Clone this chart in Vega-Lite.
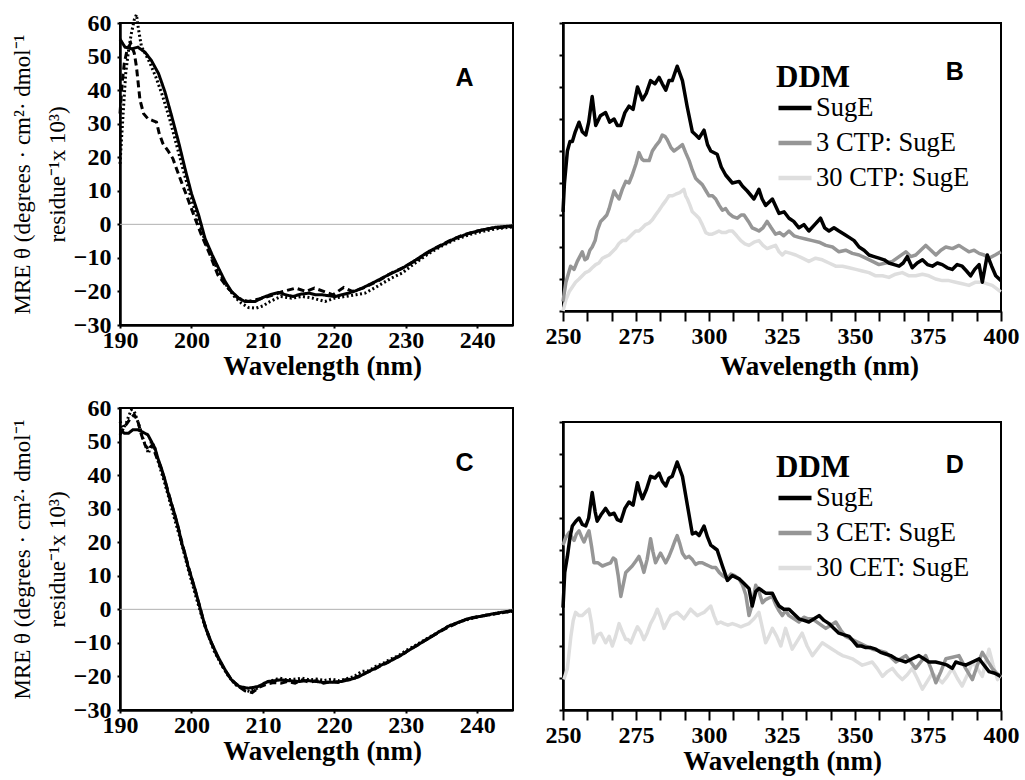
{
"$schema": "https://vega.github.io/schema/vega-lite/v6.json",
"background": "white",
"padding": {"left": 10, "top": 7, "right": 5, "bottom": 5},
"config": {
  "view": {"stroke": "black", "strokeWidth": 2},
  "axis": {"domainColor": "black", "domainWidth": 2.5, "tickColor": "black", "tickWidth": 2, "grid": false, "tickCount": 100,
           "labelFont": "Liberation Serif", "labelFontWeight": "bold", "labelFontSize": 24, "labelColor": "black",
           "titleFont": "Liberation Serif", "titleFontWeight": "bold", "titleFontSize": 27, "titleColor": "black"},
  "legend": {"labelFont": "Liberation Serif", "labelFontSize": 26.5, "labelFontWeight": "normal", "labelColor": "black",
             "titleFont": "Liberation Serif", "titleFontSize": 31, "titleFontWeight": "bold", "titleColor": "black",
             "titlePadding": -5, "labelOffset": 2, "rowPadding": 2, "padding": 0, "symbolType": "stroke", "symbolSize": 1089, "symbolStrokeWidth": 4.5}
},
"datasets": {
  "cdA": [
    {"wl":190.0,"mre":55.2,"series":"SugE"},{"wl":190.7,"mre":52.8,"series":"SugE"},{"wl":191.6,"mre":52.3,"series":"SugE"},{"wl":192.5,"mre":52.8,"series":"SugE"},{"wl":193.5,"mre":51.3,"series":"SugE"},{"wl":194.4,"mre":48.8,"series":"SugE"},{"wl":195.4,"mre":44.9,"series":"SugE"},{"wl":196.3,"mre":39.4,"series":"SugE"},{"wl":197.2,"mre":32.5,"series":"SugE"},{"wl":198.2,"mre":24.5,"series":"SugE"},{"wl":199.1,"mre":16.6,"series":"SugE"},{"wl":200.0,"mre":9.2,"series":"SugE"},{"wl":201.0,"mre":2.8,"series":"SugE"},{"wl":201.9,"mre":-4.2,"series":"SugE"},{"wl":202.9,"mre":-9.1,"series":"SugE"},{"wl":203.8,"mre":-13.1,"series":"SugE"},{"wl":204.7,"mre":-17.0,"series":"SugE"},{"wl":205.6,"mre":-20.0,"series":"SugE"},{"wl":206.6,"mre":-22.0,"series":"SugE"},{"wl":207.5,"mre":-23.0,"series":"SugE"},{"wl":208.9,"mre":-23.0,"series":"SugE"},{"wl":210.0,"mre":-21.8,"series":"SugE"},{"wl":211.0,"mre":-21.0,"series":"SugE"},{"wl":212.2,"mre":-20.3,"series":"SugE"},{"wl":213.2,"mre":-21.0,"series":"SugE"},{"wl":214.2,"mre":-21.5,"series":"SugE"},{"wl":215.3,"mre":-20.8,"series":"SugE"},{"wl":216.5,"mre":-20.5,"series":"SugE"},{"wl":217.4,"mre":-21.0,"series":"SugE"},{"wl":218.3,"mre":-21.0,"series":"SugE"},{"wl":219.2,"mre":-21.3,"series":"SugE"},{"wl":220.2,"mre":-21.5,"series":"SugE"},{"wl":221.0,"mre":-21.0,"series":"SugE"},{"wl":222.0,"mre":-20.5,"series":"SugE"},{"wl":223.0,"mre":-19.8,"series":"SugE"},{"wl":223.9,"mre":-19.0,"series":"SugE"},{"wl":225.8,"mre":-17.0,"series":"SugE"},{"wl":227.6,"mre":-15.0,"series":"SugE"},{"wl":229.5,"mre":-13.1,"series":"SugE"},{"wl":231.4,"mre":-10.6,"series":"SugE"},{"wl":233.2,"mre":-8.1,"series":"SugE"},{"wl":235.1,"mre":-6.1,"series":"SugE"},{"wl":236.9,"mre":-4.2,"series":"SugE"},{"wl":238.8,"mre":-2.7,"series":"SugE"},{"wl":240.6,"mre":-1.7,"series":"SugE"},{"wl":242.5,"mre":-0.9,"series":"SugE"},{"wl":244.6,"mre":-0.5,"series":"SugE"},{"wl":245.0,"mre":-0.4,"series":"SugE"},
    {"wl":190.0,"mre":33,"series":"3 CTP: SugE"},{"wl":190.3,"mre":42,"series":"3 CTP: SugE"},{"wl":190.6,"mre":48,"series":"3 CTP: SugE"},{"wl":191.0,"mre":52,"series":"3 CTP: SugE"},{"wl":191.5,"mre":54,"series":"3 CTP: SugE"},{"wl":192.0,"mre":51,"series":"3 CTP: SugE"},{"wl":192.3,"mre":47,"series":"3 CTP: SugE"},{"wl":192.8,"mre":37,"series":"3 CTP: SugE"},{"wl":193.3,"mre":33,"series":"3 CTP: SugE"},{"wl":193.9,"mre":31.5,"series":"3 CTP: SugE"},{"wl":194.5,"mre":31,"series":"3 CTP: SugE"},{"wl":195.1,"mre":30.5,"series":"3 CTP: SugE"},{"wl":195.5,"mre":27,"series":"3 CTP: SugE"},{"wl":196.0,"mre":24.1,"series":"3 CTP: SugE"},{"wl":196.7,"mre":22,"series":"3 CTP: SugE"},{"wl":197.4,"mre":19.6,"series":"3 CTP: SugE"},{"wl":198.4,"mre":13.7,"series":"3 CTP: SugE"},{"wl":199.3,"mre":8.7,"series":"3 CTP: SugE"},{"wl":200.5,"mre":1.8,"series":"3 CTP: SugE"},{"wl":201.4,"mre":-3.2,"series":"3 CTP: SugE"},{"wl":202.6,"mre":-9.1,"series":"3 CTP: SugE"},{"wl":203.7,"mre":-15.1,"series":"3 CTP: SugE"},{"wl":205.1,"mre":-19.0,"series":"3 CTP: SugE"},{"wl":206.5,"mre":-22.0,"series":"3 CTP: SugE"},{"wl":207.9,"mre":-23.0,"series":"3 CTP: SugE"},{"wl":209.0,"mre":-22.5,"series":"3 CTP: SugE"},{"wl":210.0,"mre":-22,"series":"3 CTP: SugE"},{"wl":211.5,"mre":-21,"series":"3 CTP: SugE"},{"wl":212.8,"mre":-20,"series":"3 CTP: SugE"},{"wl":214.6,"mre":-19,"series":"3 CTP: SugE"},{"wl":216.0,"mre":-20,"series":"3 CTP: SugE"},{"wl":217.2,"mre":-19,"series":"3 CTP: SugE"},{"wl":218.5,"mre":-20,"series":"3 CTP: SugE"},{"wl":219.8,"mre":-21,"series":"3 CTP: SugE"},{"wl":221.3,"mre":-18.8,"series":"3 CTP: SugE"},{"wl":222.5,"mre":-20,"series":"3 CTP: SugE"},{"wl":224.0,"mre":-19,"series":"3 CTP: SugE"},{"wl":226,"mre":-17,"series":"3 CTP: SugE"},{"wl":228,"mre":-14.5,"series":"3 CTP: SugE"},{"wl":230,"mre":-12.5,"series":"3 CTP: SugE"},{"wl":232,"mre":-10,"series":"3 CTP: SugE"},{"wl":234,"mre":-7.2,"series":"3 CTP: SugE"},{"wl":236,"mre":-5,"series":"3 CTP: SugE"},{"wl":238,"mre":-3.2,"series":"3 CTP: SugE"},{"wl":240,"mre":-2,"series":"3 CTP: SugE"},{"wl":242,"mre":-1.2,"series":"3 CTP: SugE"},{"wl":245,"mre":-0.6,"series":"3 CTP: SugE"},
    {"wl":190.0,"mre":18,"series":"30 CTP: SugE"},{"wl":190.2,"mre":25,"series":"30 CTP: SugE"},{"wl":190.5,"mre":35,"series":"30 CTP: SugE"},{"wl":190.8,"mre":45,"series":"30 CTP: SugE"},{"wl":191.2,"mre":52,"series":"30 CTP: SugE"},{"wl":191.6,"mre":57,"series":"30 CTP: SugE"},{"wl":192.0,"mre":61,"series":"30 CTP: SugE"},{"wl":192.3,"mre":62.5,"series":"30 CTP: SugE"},{"wl":192.6,"mre":58,"series":"30 CTP: SugE"},{"wl":193.0,"mre":53,"series":"30 CTP: SugE"},{"wl":193.5,"mre":51,"series":"30 CTP: SugE"},{"wl":194.2,"mre":48,"series":"30 CTP: SugE"},{"wl":195.0,"mre":44,"series":"30 CTP: SugE"},{"wl":196.0,"mre":38,"series":"30 CTP: SugE"},{"wl":197.0,"mre":31,"series":"30 CTP: SugE"},{"wl":198.0,"mre":23,"series":"30 CTP: SugE"},{"wl":199.0,"mre":15,"series":"30 CTP: SugE"},{"wl":200.0,"mre":7.5,"series":"30 CTP: SugE"},{"wl":201.0,"mre":1,"series":"30 CTP: SugE"},{"wl":202.0,"mre":-5.5,"series":"30 CTP: SugE"},{"wl":203.0,"mre":-10.5,"series":"30 CTP: SugE"},{"wl":204.0,"mre":-15,"series":"30 CTP: SugE"},{"wl":205.0,"mre":-18.5,"series":"30 CTP: SugE"},{"wl":206.0,"mre":-21.5,"series":"30 CTP: SugE"},{"wl":207.0,"mre":-23.5,"series":"30 CTP: SugE"},{"wl":208.0,"mre":-24.8,"series":"30 CTP: SugE"},{"wl":209.0,"mre":-25,"series":"30 CTP: SugE"},{"wl":210.0,"mre":-24.3,"series":"30 CTP: SugE"},{"wl":211.0,"mre":-23,"series":"30 CTP: SugE"},{"wl":212.5,"mre":-21.5,"series":"30 CTP: SugE"},{"wl":214.0,"mre":-22,"series":"30 CTP: SugE"},{"wl":215.5,"mre":-21.5,"series":"30 CTP: SugE"},{"wl":217.0,"mre":-22,"series":"30 CTP: SugE"},{"wl":218.7,"mre":-23,"series":"30 CTP: SugE"},{"wl":220,"mre":-22,"series":"30 CTP: SugE"},{"wl":221.5,"mre":-21.5,"series":"30 CTP: SugE"},{"wl":223,"mre":-21,"series":"30 CTP: SugE"},{"wl":224.3,"mre":-20.5,"series":"30 CTP: SugE"},{"wl":226,"mre":-18.5,"series":"30 CTP: SugE"},{"wl":228,"mre":-16,"series":"30 CTP: SugE"},{"wl":229.5,"mre":-14.5,"series":"30 CTP: SugE"},{"wl":231,"mre":-12,"series":"30 CTP: SugE"},{"wl":233,"mre":-9,"series":"30 CTP: SugE"},{"wl":235,"mre":-6.5,"series":"30 CTP: SugE"},{"wl":237,"mre":-4.5,"series":"30 CTP: SugE"},{"wl":239,"mre":-3,"series":"30 CTP: SugE"},{"wl":241,"mre":-2,"series":"30 CTP: SugE"},{"wl":243,"mre":-1.2,"series":"30 CTP: SugE"},{"wl":245,"mre":-0.8,"series":"30 CTP: SugE"}
  ],
  "cdC": [
    {"wl":190.0,"mre":53.5,"series":"SugE"},{"wl":190.6,"mre":52.5,"series":"SugE"},{"wl":191.2,"mre":52.5,"series":"SugE"},{"wl":191.8,"mre":53.5,"series":"SugE"},{"wl":192.5,"mre":53.5,"series":"SugE"},{"wl":193.2,"mre":52.8,"series":"SugE"},{"wl":193.9,"mre":52,"series":"SugE"},{"wl":194.4,"mre":50,"series":"SugE"},{"wl":194.9,"mre":48,"series":"SugE"},{"wl":195.3,"mre":45,"series":"SugE"},{"wl":195.8,"mre":42,"series":"SugE"},{"wl":196.3,"mre":38.5,"series":"SugE"},{"wl":196.7,"mre":35,"series":"SugE"},{"wl":197.2,"mre":31.5,"series":"SugE"},{"wl":197.7,"mre":28,"series":"SugE"},{"wl":198.2,"mre":24,"series":"SugE"},{"wl":198.6,"mre":20,"series":"SugE"},{"wl":199.1,"mre":16.5,"series":"SugE"},{"wl":199.5,"mre":13,"series":"SugE"},{"wl":200.0,"mre":9.5,"series":"SugE"},{"wl":200.5,"mre":6,"series":"SugE"},{"wl":201.2,"mre":0.5,"series":"SugE"},{"wl":201.9,"mre":-5,"series":"SugE"},{"wl":202.8,"mre":-10,"series":"SugE"},{"wl":203.8,"mre":-14.5,"series":"SugE"},{"wl":204.7,"mre":-18,"series":"SugE"},{"wl":205.6,"mre":-21,"series":"SugE"},{"wl":206.7,"mre":-23,"series":"SugE"},{"wl":207.9,"mre":-23.5,"series":"SugE"},{"wl":208.6,"mre":-23.3,"series":"SugE"},{"wl":209.3,"mre":-23,"series":"SugE"},{"wl":210.0,"mre":-22.3,"series":"SugE"},{"wl":210.7,"mre":-21.5,"series":"SugE"},{"wl":211.6,"mre":-21.3,"series":"SugE"},{"wl":212.5,"mre":-21,"series":"SugE"},{"wl":213.8,"mre":-21.3,"series":"SugE"},{"wl":215.1,"mre":-21.5,"series":"SugE"},{"wl":216.2,"mre":-21.2,"series":"SugE"},{"wl":217.4,"mre":-21.5,"series":"SugE"},{"wl":218.6,"mre":-21.8,"series":"SugE"},{"wl":219.8,"mre":-21.7,"series":"SugE"},{"wl":221.0,"mre":-21.5,"series":"SugE"},{"wl":222.1,"mre":-21,"series":"SugE"},{"wl":223.3,"mre":-20.2,"series":"SugE"},{"wl":224.4,"mre":-19,"series":"SugE"},{"wl":225.5,"mre":-17.8,"series":"SugE"},{"wl":226.7,"mre":-16.5,"series":"SugE"},{"wl":227.9,"mre":-15.3,"series":"SugE"},{"wl":229.1,"mre":-14,"series":"SugE"},{"wl":230.2,"mre":-12.5,"series":"SugE"},{"wl":231.4,"mre":-11,"series":"SugE"},{"wl":232.5,"mre":-9.5,"series":"SugE"},{"wl":233.7,"mre":-8,"series":"SugE"},{"wl":234.8,"mre":-6.5,"series":"SugE"},{"wl":236.0,"mre":-5,"series":"SugE"},{"wl":237.2,"mre":-4,"series":"SugE"},{"wl":238.4,"mre":-3,"series":"SugE"},{"wl":239.5,"mre":-2.4,"series":"SugE"},{"wl":240.7,"mre":-2,"series":"SugE"},{"wl":242.5,"mre":-1.2,"series":"SugE"},{"wl":244.6,"mre":-0.5,"series":"SugE"},{"wl":245,"mre":-0.4,"series":"SugE"},
    {"wl":190.0,"mre":52,"series":"3 CET: SugE"},{"wl":190.5,"mre":54,"series":"3 CET: SugE"},{"wl":191.0,"mre":55.5,"series":"3 CET: SugE"},{"wl":191.5,"mre":57,"series":"3 CET: SugE"},{"wl":192.0,"mre":58,"series":"3 CET: SugE"},{"wl":192.5,"mre":56,"series":"3 CET: SugE"},{"wl":193.0,"mre":52,"series":"3 CET: SugE"},{"wl":193.5,"mre":49,"series":"3 CET: SugE"},{"wl":194.0,"mre":47.5,"series":"3 CET: SugE"},{"wl":194.5,"mre":49,"series":"3 CET: SugE"},{"wl":195.0,"mre":46,"series":"3 CET: SugE"},{"wl":195.6,"mre":43,"series":"3 CET: SugE"},{"wl":196.2,"mre":39,"series":"3 CET: SugE"},{"wl":196.8,"mre":34.5,"series":"3 CET: SugE"},{"wl":197.4,"mre":30,"series":"3 CET: SugE"},{"wl":198.0,"mre":25.5,"series":"3 CET: SugE"},{"wl":198.6,"mre":20.5,"series":"3 CET: SugE"},{"wl":199.2,"mre":15.5,"series":"3 CET: SugE"},{"wl":199.8,"mre":11,"series":"3 CET: SugE"},{"wl":200.4,"mre":6.5,"series":"3 CET: SugE"},{"wl":201.0,"mre":2,"series":"3 CET: SugE"},{"wl":201.7,"mre":-3.5,"series":"3 CET: SugE"},{"wl":202.5,"mre":-8.5,"series":"3 CET: SugE"},{"wl":203.5,"mre":-13.5,"series":"3 CET: SugE"},{"wl":204.5,"mre":-17.5,"series":"3 CET: SugE"},{"wl":205.5,"mre":-20.8,"series":"3 CET: SugE"},{"wl":206.5,"mre":-22.8,"series":"3 CET: SugE"},{"wl":207.5,"mre":-24.3,"series":"3 CET: SugE"},{"wl":208.5,"mre":-24.8,"series":"3 CET: SugE"},{"wl":209.5,"mre":-23.2,"series":"3 CET: SugE"},{"wl":210.5,"mre":-22.3,"series":"3 CET: SugE"},{"wl":211.5,"mre":-21.8,"series":"3 CET: SugE"},{"wl":212.5,"mre":-22,"series":"3 CET: SugE"},{"wl":213.5,"mre":-21.5,"series":"3 CET: SugE"},{"wl":214.5,"mre":-22,"series":"3 CET: SugE"},{"wl":215.5,"mre":-21,"series":"3 CET: SugE"},{"wl":216.5,"mre":-21.8,"series":"3 CET: SugE"},{"wl":217.5,"mre":-21.2,"series":"3 CET: SugE"},{"wl":218.5,"mre":-22,"series":"3 CET: SugE"},{"wl":219.5,"mre":-21.5,"series":"3 CET: SugE"},{"wl":220.5,"mre":-21.8,"series":"3 CET: SugE"},{"wl":221.5,"mre":-21,"series":"3 CET: SugE"},{"wl":222.5,"mre":-20.8,"series":"3 CET: SugE"},{"wl":223.5,"mre":-19.8,"series":"3 CET: SugE"},{"wl":224.5,"mre":-18.8,"series":"3 CET: SugE"},{"wl":225.5,"mre":-18,"series":"3 CET: SugE"},{"wl":226.5,"mre":-16.8,"series":"3 CET: SugE"},{"wl":227.5,"mre":-15.8,"series":"3 CET: SugE"},{"wl":228.5,"mre":-14.5,"series":"3 CET: SugE"},{"wl":229.5,"mre":-13.5,"series":"3 CET: SugE"},{"wl":230.5,"mre":-12,"series":"3 CET: SugE"},{"wl":231.5,"mre":-10.8,"series":"3 CET: SugE"},{"wl":232.5,"mre":-9.5,"series":"3 CET: SugE"},{"wl":233.5,"mre":-8.2,"series":"3 CET: SugE"},{"wl":234.5,"mre":-7,"series":"3 CET: SugE"},{"wl":235.5,"mre":-5.8,"series":"3 CET: SugE"},{"wl":236.5,"mre":-4.8,"series":"3 CET: SugE"},{"wl":237.5,"mre":-3.8,"series":"3 CET: SugE"},{"wl":238.5,"mre":-3,"series":"3 CET: SugE"},{"wl":239.5,"mre":-2.5,"series":"3 CET: SugE"},{"wl":240.5,"mre":-2,"series":"3 CET: SugE"},{"wl":242,"mre":-1.5,"series":"3 CET: SugE"},{"wl":243.5,"mre":-1,"series":"3 CET: SugE"},{"wl":245,"mre":-0.4,"series":"3 CET: SugE"},
    {"wl":190.0,"mre":56,"series":"30 CET: SugE"},{"wl":190.4,"mre":54,"series":"30 CET: SugE"},{"wl":190.8,"mre":55,"series":"30 CET: SugE"},{"wl":191.2,"mre":57.5,"series":"30 CET: SugE"},{"wl":191.6,"mre":59.5,"series":"30 CET: SugE"},{"wl":192.0,"mre":59,"series":"30 CET: SugE"},{"wl":192.4,"mre":56.5,"series":"30 CET: SugE"},{"wl":192.8,"mre":54,"series":"30 CET: SugE"},{"wl":193.2,"mre":51,"series":"30 CET: SugE"},{"wl":193.6,"mre":48.5,"series":"30 CET: SugE"},{"wl":194.0,"mre":46.5,"series":"30 CET: SugE"},{"wl":194.4,"mre":50,"series":"30 CET: SugE"},{"wl":194.8,"mre":48.5,"series":"30 CET: SugE"},{"wl":195.2,"mre":45,"series":"30 CET: SugE"},{"wl":195.7,"mre":41.5,"series":"30 CET: SugE"},{"wl":196.2,"mre":38,"series":"30 CET: SugE"},{"wl":196.8,"mre":33.5,"series":"30 CET: SugE"},{"wl":197.3,"mre":29.5,"series":"30 CET: SugE"},{"wl":197.9,"mre":25,"series":"30 CET: SugE"},{"wl":198.5,"mre":20.5,"series":"30 CET: SugE"},{"wl":199.0,"mre":16.5,"series":"30 CET: SugE"},{"wl":199.6,"mre":11.5,"series":"30 CET: SugE"},{"wl":200.2,"mre":7,"series":"30 CET: SugE"},{"wl":200.8,"mre":2.5,"series":"30 CET: SugE"},{"wl":201.5,"mre":-2.5,"series":"30 CET: SugE"},{"wl":202.3,"mre":-7.5,"series":"30 CET: SugE"},{"wl":203.2,"mre":-12.5,"series":"30 CET: SugE"},{"wl":204.2,"mre":-16.5,"series":"30 CET: SugE"},{"wl":205.2,"mre":-20,"series":"30 CET: SugE"},{"wl":206.2,"mre":-22.5,"series":"30 CET: SugE"},{"wl":207.2,"mre":-23.8,"series":"30 CET: SugE"},{"wl":208.2,"mre":-24.5,"series":"30 CET: SugE"},{"wl":209.2,"mre":-23.5,"series":"30 CET: SugE"},{"wl":210.2,"mre":-22,"series":"30 CET: SugE"},{"wl":211.2,"mre":-21.3,"series":"30 CET: SugE"},{"wl":212.3,"mre":-20.5,"series":"30 CET: SugE"},{"wl":213.3,"mre":-21,"series":"30 CET: SugE"},{"wl":214.4,"mre":-20.8,"series":"30 CET: SugE"},{"wl":215.5,"mre":-20.5,"series":"30 CET: SugE"},{"wl":216.5,"mre":-21,"series":"30 CET: SugE"},{"wl":217.5,"mre":-20.8,"series":"30 CET: SugE"},{"wl":218.6,"mre":-21.2,"series":"30 CET: SugE"},{"wl":219.6,"mre":-20.8,"series":"30 CET: SugE"},{"wl":220.7,"mre":-21.3,"series":"30 CET: SugE"},{"wl":221.7,"mre":-20.7,"series":"30 CET: SugE"},{"wl":222.8,"mre":-20,"series":"30 CET: SugE"},{"wl":223.8,"mre":-18.5,"series":"30 CET: SugE"},{"wl":224.8,"mre":-18.3,"series":"30 CET: SugE"},{"wl":225.8,"mre":-17,"series":"30 CET: SugE"},{"wl":226.9,"mre":-16,"series":"30 CET: SugE"},{"wl":227.9,"mre":-14.8,"series":"30 CET: SugE"},{"wl":229,"mre":-13.8,"series":"30 CET: SugE"},{"wl":230,"mre":-12.3,"series":"30 CET: SugE"},{"wl":231,"mre":-11.2,"series":"30 CET: SugE"},{"wl":232.1,"mre":-9.8,"series":"30 CET: SugE"},{"wl":233.1,"mre":-8.5,"series":"30 CET: SugE"},{"wl":234.2,"mre":-7.2,"series":"30 CET: SugE"},{"wl":235.2,"mre":-6,"series":"30 CET: SugE"},{"wl":236.2,"mre":-4.8,"series":"30 CET: SugE"},{"wl":237.3,"mre":-4,"series":"30 CET: SugE"},{"wl":238.3,"mre":-3.2,"series":"30 CET: SugE"},{"wl":239.4,"mre":-2.6,"series":"30 CET: SugE"},{"wl":240.4,"mre":-2.1,"series":"30 CET: SugE"},{"wl":241.5,"mre":-1.7,"series":"30 CET: SugE"},{"wl":243,"mre":-1.1,"series":"30 CET: SugE"},{"wl":245,"mre":-0.6,"series":"30 CET: SugE"}
  ],
  "nuvB": [
    {"wl":250.0,"cd":0.0,"series":"30 CTP: SugE"},{"wl":251.0,"cd":0.35,"series":"30 CTP: SugE"},{"wl":252.1,"cd":0.6,"series":"30 CTP: SugE"},{"wl":253.2,"cd":0.75,"series":"30 CTP: SugE"},{"wl":254.3,"cd":0.9,"series":"30 CTP: SugE"},{"wl":255.5,"cd":1.0,"series":"30 CTP: SugE"},{"wl":256.6,"cd":1.1,"series":"30 CTP: SugE"},{"wl":257.7,"cd":1.2,"series":"30 CTP: SugE"},{"wl":258.9,"cd":1.25,"series":"30 CTP: SugE"},{"wl":260.0,"cd":1.35,"series":"30 CTP: SugE"},{"wl":261.2,"cd":1.45,"series":"30 CTP: SugE"},{"wl":262.3,"cd":1.5,"series":"30 CTP: SugE"},{"wl":263.5,"cd":1.65,"series":"30 CTP: SugE"},{"wl":264.6,"cd":1.7,"series":"30 CTP: SugE"},{"wl":265.8,"cd":1.75,"series":"30 CTP: SugE"},{"wl":266.9,"cd":1.85,"series":"30 CTP: SugE"},{"wl":268.0,"cd":1.95,"series":"30 CTP: SugE"},{"wl":269.1,"cd":2.1,"series":"30 CTP: SugE"},{"wl":270.3,"cd":2.2,"series":"30 CTP: SugE"},{"wl":271.5,"cd":2.2,"series":"30 CTP: SugE"},{"wl":272.6,"cd":2.3,"series":"30 CTP: SugE"},{"wl":273.7,"cd":2.4,"series":"30 CTP: SugE"},{"wl":274.9,"cd":2.5,"series":"30 CTP: SugE"},{"wl":276.0,"cd":2.5,"series":"30 CTP: SugE"},{"wl":277.2,"cd":2.6,"series":"30 CTP: SugE"},{"wl":278.3,"cd":2.7,"series":"30 CTP: SugE"},{"wl":279.5,"cd":2.75,"series":"30 CTP: SugE"},{"wl":280.6,"cd":2.85,"series":"30 CTP: SugE"},{"wl":281.7,"cd":3.0,"series":"30 CTP: SugE"},{"wl":282.9,"cd":3.15,"series":"30 CTP: SugE"},{"wl":284.0,"cd":3.3,"series":"30 CTP: SugE"},{"wl":285.2,"cd":3.45,"series":"30 CTP: SugE"},{"wl":286.3,"cd":3.6,"series":"30 CTP: SugE"},{"wl":287.5,"cd":3.6,"series":"30 CTP: SugE"},{"wl":288.6,"cd":3.65,"series":"30 CTP: SugE"},{"wl":290.0,"cd":3.7,"series":"30 CTP: SugE"},{"wl":291.4,"cd":3.8,"series":"30 CTP: SugE"},{"wl":292.0,"cd":3.6,"series":"30 CTP: SugE"},{"wl":292.6,"cd":3.5,"series":"30 CTP: SugE"},{"wl":293.5,"cd":3.3,"series":"30 CTP: SugE"},{"wl":294.3,"cd":3.1,"series":"30 CTP: SugE"},{"wl":295.5,"cd":3.0,"series":"30 CTP: SugE"},{"wl":296.6,"cd":2.9,"series":"30 CTP: SugE"},{"wl":297.7,"cd":2.7,"series":"30 CTP: SugE"},{"wl":298.9,"cd":2.45,"series":"30 CTP: SugE"},{"wl":300.0,"cd":2.4,"series":"30 CTP: SugE"},{"wl":301.1,"cd":2.4,"series":"30 CTP: SugE"},{"wl":302.3,"cd":2.45,"series":"30 CTP: SugE"},{"wl":303.4,"cd":2.5,"series":"30 CTP: SugE"},{"wl":304.5,"cd":2.45,"series":"30 CTP: SugE"},{"wl":305.7,"cd":2.45,"series":"30 CTP: SugE"},{"wl":306.8,"cd":2.5,"series":"30 CTP: SugE"},{"wl":308.0,"cd":2.5,"series":"30 CTP: SugE"},{"wl":309.5,"cd":2.35,"series":"30 CTP: SugE"},{"wl":310.9,"cd":2.2,"series":"30 CTP: SugE"},{"wl":312.3,"cd":2.1,"series":"30 CTP: SugE"},{"wl":313.7,"cd":2.05,"series":"30 CTP: SugE"},{"wl":315.4,"cd":2.15,"series":"30 CTP: SugE"},{"wl":317.1,"cd":2.2,"series":"30 CTP: SugE"},{"wl":318.5,"cd":2.05,"series":"30 CTP: SugE"},{"wl":319.9,"cd":1.95,"series":"30 CTP: SugE"},{"wl":321.3,"cd":2.0,"series":"30 CTP: SugE"},{"wl":322.8,"cd":2.05,"series":"30 CTP: SugE"},{"wl":324.0,"cd":1.85,"series":"30 CTP: SugE"},{"wl":325.1,"cd":1.75,"series":"30 CTP: SugE"},{"wl":326.2,"cd":1.85,"series":"30 CTP: SugE"},{"wl":328.0,"cd":1.8,"series":"30 CTP: SugE"},{"wl":329.7,"cd":1.75,"series":"30 CTP: SugE"},{"wl":332.0,"cd":1.65,"series":"30 CTP: SugE"},{"wl":334.2,"cd":1.55,"series":"30 CTP: SugE"},{"wl":336.5,"cd":1.65,"series":"30 CTP: SugE"},{"wl":338.8,"cd":1.6,"series":"30 CTP: SugE"},{"wl":341.1,"cd":1.5,"series":"30 CTP: SugE"},{"wl":343.4,"cd":1.4,"series":"30 CTP: SugE"},{"wl":345.7,"cd":1.4,"series":"30 CTP: SugE"},{"wl":348.0,"cd":1.35,"series":"30 CTP: SugE"},{"wl":350.3,"cd":1.3,"series":"30 CTP: SugE"},{"wl":352.5,"cd":1.25,"series":"30 CTP: SugE"},{"wl":354.8,"cd":1.2,"series":"30 CTP: SugE"},{"wl":357.1,"cd":1.1,"series":"30 CTP: SugE"},{"wl":359.4,"cd":1.1,"series":"30 CTP: SugE"},{"wl":361.6,"cd":1.05,"series":"30 CTP: SugE"},{"wl":363.9,"cd":1.15,"series":"30 CTP: SugE"},{"wl":366.2,"cd":1.2,"series":"30 CTP: SugE"},{"wl":368.5,"cd":1.1,"series":"30 CTP: SugE"},{"wl":370.8,"cd":1.1,"series":"30 CTP: SugE"},{"wl":373.1,"cd":1.15,"series":"30 CTP: SugE"},{"wl":375.3,"cd":1.1,"series":"30 CTP: SugE"},{"wl":377.6,"cd":1.0,"series":"30 CTP: SugE"},{"wl":379.9,"cd":0.95,"series":"30 CTP: SugE"},{"wl":382.2,"cd":0.95,"series":"30 CTP: SugE"},{"wl":384.5,"cd":0.9,"series":"30 CTP: SugE"},{"wl":386.8,"cd":0.85,"series":"30 CTP: SugE"},{"wl":389.0,"cd":0.8,"series":"30 CTP: SugE"},{"wl":391.3,"cd":0.9,"series":"30 CTP: SugE"},{"wl":393.6,"cd":0.9,"series":"30 CTP: SugE"},{"wl":395.3,"cd":0.85,"series":"30 CTP: SugE"},{"wl":397.0,"cd":0.8,"series":"30 CTP: SugE"},{"wl":398.5,"cd":0.7,"series":"30 CTP: SugE"},{"wl":399.9,"cd":0.6,"series":"30 CTP: SugE"},
    {"wl":250.0,"cd":0.3,"series":"3 CTP: SugE"},{"wl":251.0,"cd":0.9,"series":"3 CTP: SugE"},{"wl":252.6,"cd":1.4,"series":"3 CTP: SugE"},{"wl":253.8,"cd":1.3,"series":"3 CTP: SugE"},{"wl":254.9,"cd":1.55,"series":"3 CTP: SugE"},{"wl":256.6,"cd":1.85,"series":"3 CTP: SugE"},{"wl":257.5,"cd":1.6,"series":"3 CTP: SugE"},{"wl":258.3,"cd":1.65,"series":"3 CTP: SugE"},{"wl":259.2,"cd":1.9,"series":"3 CTP: SugE"},{"wl":260.0,"cd":2.0,"series":"3 CTP: SugE"},{"wl":261.0,"cd":2.2,"series":"3 CTP: SugE"},{"wl":261.7,"cd":2.5,"series":"3 CTP: SugE"},{"wl":262.9,"cd":2.8,"series":"3 CTP: SugE"},{"wl":264.0,"cd":2.9,"series":"3 CTP: SugE"},{"wl":265.0,"cd":3.0,"series":"3 CTP: SugE"},{"wl":265.8,"cd":3.2,"series":"3 CTP: SugE"},{"wl":266.7,"cd":3.5,"series":"3 CTP: SugE"},{"wl":267.5,"cd":3.75,"series":"3 CTP: SugE"},{"wl":268.4,"cd":3.6,"series":"3 CTP: SugE"},{"wl":269.2,"cd":3.5,"series":"3 CTP: SugE"},{"wl":270.3,"cd":3.8,"series":"3 CTP: SugE"},{"wl":271.5,"cd":4.05,"series":"3 CTP: SugE"},{"wl":272.6,"cd":4.0,"series":"3 CTP: SugE"},{"wl":273.7,"cd":4.25,"series":"3 CTP: SugE"},{"wl":275.0,"cd":4.6,"series":"3 CTP: SugE"},{"wl":276.0,"cd":4.95,"series":"3 CTP: SugE"},{"wl":277.0,"cd":4.75,"series":"3 CTP: SugE"},{"wl":277.7,"cd":4.7,"series":"3 CTP: SugE"},{"wl":279.5,"cd":4.7,"series":"3 CTP: SugE"},{"wl":280.6,"cd":5.0,"series":"3 CTP: SugE"},{"wl":281.7,"cd":5.15,"series":"3 CTP: SugE"},{"wl":283.0,"cd":5.3,"series":"3 CTP: SugE"},{"wl":284.0,"cd":5.5,"series":"3 CTP: SugE"},{"wl":285.0,"cd":5.45,"series":"3 CTP: SugE"},{"wl":285.7,"cd":5.35,"series":"3 CTP: SugE"},{"wl":287.0,"cd":5.1,"series":"3 CTP: SugE"},{"wl":288.0,"cd":5.0,"series":"3 CTP: SugE"},{"wl":289.5,"cd":5.1,"series":"3 CTP: SugE"},{"wl":290.9,"cd":5.2,"series":"3 CTP: SugE"},{"wl":292.0,"cd":4.95,"series":"3 CTP: SugE"},{"wl":293.2,"cd":4.7,"series":"3 CTP: SugE"},{"wl":294.3,"cd":4.4,"series":"3 CTP: SugE"},{"wl":295.4,"cd":4.15,"series":"3 CTP: SugE"},{"wl":296.5,"cd":4.05,"series":"3 CTP: SugE"},{"wl":297.7,"cd":3.95,"series":"3 CTP: SugE"},{"wl":299.0,"cd":3.75,"series":"3 CTP: SugE"},{"wl":300.0,"cd":3.6,"series":"3 CTP: SugE"},{"wl":301.2,"cd":3.6,"series":"3 CTP: SugE"},{"wl":302.3,"cd":3.5,"series":"3 CTP: SugE"},{"wl":303.5,"cd":3.3,"series":"3 CTP: SugE"},{"wl":304.6,"cd":3.15,"series":"3 CTP: SugE"},{"wl":305.7,"cd":3.2,"series":"3 CTP: SugE"},{"wl":306.8,"cd":3.05,"series":"3 CTP: SugE"},{"wl":308.2,"cd":2.95,"series":"3 CTP: SugE"},{"wl":309.7,"cd":2.9,"series":"3 CTP: SugE"},{"wl":311.0,"cd":3.0,"series":"3 CTP: SugE"},{"wl":312.0,"cd":3.0,"series":"3 CTP: SugE"},{"wl":313.5,"cd":2.8,"series":"3 CTP: SugE"},{"wl":314.8,"cd":2.6,"series":"3 CTP: SugE"},{"wl":316.0,"cd":2.55,"series":"3 CTP: SugE"},{"wl":317.1,"cd":2.5,"series":"3 CTP: SugE"},{"wl":318.5,"cd":2.6,"series":"3 CTP: SugE"},{"wl":319.9,"cd":2.8,"series":"3 CTP: SugE"},{"wl":321.3,"cd":2.6,"series":"3 CTP: SugE"},{"wl":322.8,"cd":2.4,"series":"3 CTP: SugE"},{"wl":324.2,"cd":2.45,"series":"3 CTP: SugE"},{"wl":325.6,"cd":2.35,"series":"3 CTP: SugE"},{"wl":327.4,"cd":2.5,"series":"3 CTP: SugE"},{"wl":329.1,"cd":2.35,"series":"3 CTP: SugE"},{"wl":330.8,"cd":2.3,"series":"3 CTP: SugE"},{"wl":333.1,"cd":2.25,"series":"3 CTP: SugE"},{"wl":335.4,"cd":2.2,"series":"3 CTP: SugE"},{"wl":337.7,"cd":2.15,"series":"3 CTP: SugE"},{"wl":340.0,"cd":2.05,"series":"3 CTP: SugE"},{"wl":342.3,"cd":2.0,"series":"3 CTP: SugE"},{"wl":344.5,"cd":1.85,"series":"3 CTP: SugE"},{"wl":346.8,"cd":1.9,"series":"3 CTP: SugE"},{"wl":349.1,"cd":1.8,"series":"3 CTP: SugE"},{"wl":351.4,"cd":1.75,"series":"3 CTP: SugE"},{"wl":353.7,"cd":1.65,"series":"3 CTP: SugE"},{"wl":356.0,"cd":1.55,"series":"3 CTP: SugE"},{"wl":358.2,"cd":1.45,"series":"3 CTP: SugE"},{"wl":360.5,"cd":1.5,"series":"3 CTP: SugE"},{"wl":362.8,"cd":1.55,"series":"3 CTP: SugE"},{"wl":365.1,"cd":1.7,"series":"3 CTP: SugE"},{"wl":367.4,"cd":1.85,"series":"3 CTP: SugE"},{"wl":369.1,"cd":1.7,"series":"3 CTP: SugE"},{"wl":370.8,"cd":1.75,"series":"3 CTP: SugE"},{"wl":372.5,"cd":1.9,"series":"3 CTP: SugE"},{"wl":374.2,"cd":2.05,"series":"3 CTP: SugE"},{"wl":376.0,"cd":1.9,"series":"3 CTP: SugE"},{"wl":377.7,"cd":1.75,"series":"3 CTP: SugE"},{"wl":379.4,"cd":1.9,"series":"3 CTP: SugE"},{"wl":381.1,"cd":2.0,"series":"3 CTP: SugE"},{"wl":383.4,"cd":1.95,"series":"3 CTP: SugE"},{"wl":385.6,"cd":2.05,"series":"3 CTP: SugE"},{"wl":387.3,"cd":1.95,"series":"3 CTP: SugE"},{"wl":389.0,"cd":1.85,"series":"3 CTP: SugE"},{"wl":390.8,"cd":1.9,"series":"3 CTP: SugE"},{"wl":392.5,"cd":1.8,"series":"3 CTP: SugE"},{"wl":394.2,"cd":1.75,"series":"3 CTP: SugE"},{"wl":395.9,"cd":1.65,"series":"3 CTP: SugE"},{"wl":398.0,"cd":1.75,"series":"3 CTP: SugE"},{"wl":399.9,"cd":1.85,"series":"3 CTP: SugE"},
    {"wl":250.0,"cd":3.1,"series":"SugE"},{"wl":250.5,"cd":4.0,"series":"SugE"},{"wl":251.5,"cd":5.0,"series":"SugE"},{"wl":252.4,"cd":5.3,"series":"SugE"},{"wl":253.2,"cd":5.3,"series":"SugE"},{"wl":254.2,"cd":5.6,"series":"SugE"},{"wl":255.5,"cd":5.9,"series":"SugE"},{"wl":256.6,"cd":5.6,"series":"SugE"},{"wl":257.8,"cd":5.5,"series":"SugE"},{"wl":258.8,"cd":5.9,"series":"SugE"},{"wl":260.0,"cd":6.7,"series":"SugE"},{"wl":261.2,"cd":5.8,"series":"SugE"},{"wl":262.8,"cd":6.1,"series":"SugE"},{"wl":264.6,"cd":6.2,"series":"SugE"},{"wl":266.0,"cd":5.9,"series":"SugE"},{"wl":267.5,"cd":6.0,"series":"SugE"},{"wl":268.6,"cd":5.8,"series":"SugE"},{"wl":269.8,"cd":5.8,"series":"SugE"},{"wl":271.2,"cd":6.2,"series":"SugE"},{"wl":272.6,"cd":6.4,"series":"SugE"},{"wl":274.0,"cd":6.3,"series":"SugE"},{"wl":275.5,"cd":7.0,"series":"SugE"},{"wl":277.2,"cd":6.6,"series":"SugE"},{"wl":278.5,"cd":6.8,"series":"SugE"},{"wl":280.0,"cd":7.2,"series":"SugE"},{"wl":281.5,"cd":7.1,"series":"SugE"},{"wl":282.9,"cd":7.3,"series":"SugE"},{"wl":284.0,"cd":7.1,"series":"SugE"},{"wl":285.2,"cd":6.9,"series":"SugE"},{"wl":286.3,"cd":7.2,"series":"SugE"},{"wl":287.4,"cd":7.2,"series":"SugE"},{"wl":289.1,"cd":7.65,"series":"SugE"},{"wl":290.9,"cd":7.2,"series":"SugE"},{"wl":292.5,"cd":6.4,"series":"SugE"},{"wl":294.3,"cd":5.6,"series":"SugE"},{"wl":295.5,"cd":5.5,"series":"SugE"},{"wl":296.6,"cd":5.4,"series":"SugE"},{"wl":298.3,"cd":5.65,"series":"SugE"},{"wl":299.5,"cd":5.2,"series":"SugE"},{"wl":300.6,"cd":5.0,"series":"SugE"},{"wl":302.8,"cd":4.9,"series":"SugE"},{"wl":304.2,"cd":4.5,"series":"SugE"},{"wl":305.7,"cd":4.25,"series":"SugE"},{"wl":308.0,"cd":4.0,"series":"SugE"},{"wl":310.3,"cd":4.05,"series":"SugE"},{"wl":311.5,"cd":3.9,"series":"SugE"},{"wl":313.1,"cd":3.75,"series":"SugE"},{"wl":315.4,"cd":3.5,"series":"SugE"},{"wl":317.1,"cd":3.8,"series":"SugE"},{"wl":318.2,"cd":3.5,"series":"SugE"},{"wl":319.4,"cd":3.3,"series":"SugE"},{"wl":321.7,"cd":3.5,"series":"SugE"},{"wl":324.0,"cd":3.05,"series":"SugE"},{"wl":325.7,"cd":3.1,"series":"SugE"},{"wl":327.4,"cd":2.9,"series":"SugE"},{"wl":329.0,"cd":2.8,"series":"SugE"},{"wl":330.8,"cd":2.6,"series":"SugE"},{"wl":332.5,"cd":2.7,"series":"SugE"},{"wl":334.2,"cd":2.5,"series":"SugE"},{"wl":336.2,"cd":2.7,"series":"SugE"},{"wl":338.2,"cd":2.9,"series":"SugE"},{"wl":339.6,"cd":2.6,"series":"SugE"},{"wl":341.1,"cd":2.5,"series":"SugE"},{"wl":342.8,"cd":2.6,"series":"SugE"},{"wl":344.5,"cd":2.5,"series":"SugE"},{"wl":346.3,"cd":2.4,"series":"SugE"},{"wl":348.0,"cd":2.3,"series":"SugE"},{"wl":349.7,"cd":2.2,"series":"SugE"},{"wl":351.4,"cd":2.0,"series":"SugE"},{"wl":353.1,"cd":1.9,"series":"SugE"},{"wl":354.8,"cd":1.75,"series":"SugE"},{"wl":356.5,"cd":1.7,"series":"SugE"},{"wl":358.2,"cd":1.65,"series":"SugE"},{"wl":360.0,"cd":1.6,"series":"SugE"},{"wl":361.6,"cd":1.5,"series":"SugE"},{"wl":363.4,"cd":1.45,"series":"SugE"},{"wl":365.1,"cd":1.4,"series":"SugE"},{"wl":366.5,"cd":1.5,"series":"SugE"},{"wl":367.9,"cd":1.7,"series":"SugE"},{"wl":369.6,"cd":1.35,"series":"SugE"},{"wl":371.3,"cd":1.5,"series":"SugE"},{"wl":373.1,"cd":1.6,"series":"SugE"},{"wl":374.8,"cd":1.45,"series":"SugE"},{"wl":376.5,"cd":1.4,"series":"SugE"},{"wl":378.2,"cd":1.5,"series":"SugE"},{"wl":379.9,"cd":1.45,"series":"SugE"},{"wl":381.6,"cd":1.35,"series":"SugE"},{"wl":383.3,"cd":1.3,"series":"SugE"},{"wl":385.0,"cd":1.45,"series":"SugE"},{"wl":386.7,"cd":1.4,"series":"SugE"},{"wl":388.2,"cd":1.25,"series":"SugE"},{"wl":389.6,"cd":1.1,"series":"SugE"},{"wl":391.0,"cd":1.3,"series":"SugE"},{"wl":392.5,"cd":1.45,"series":"SugE"},{"wl":393.6,"cd":0.9,"series":"SugE"},{"wl":395.3,"cd":1.75,"series":"SugE"},{"wl":396.8,"cd":1.4,"series":"SugE"},{"wl":398.2,"cd":1.1,"series":"SugE"},{"wl":400.0,"cd":0.95,"series":"SugE"}
  ],
  "nuvD": [
    {"wl":250.3,"cd":0.95,"series":"30 CET: SugE"},{"wl":251.5,"cd":1.3,"series":"30 CET: SugE"},{"wl":252.7,"cd":2.3,"series":"30 CET: SugE"},{"wl":253.5,"cd":2.8,"series":"30 CET: SugE"},{"wl":254.3,"cd":3.05,"series":"30 CET: SugE"},{"wl":255.5,"cd":2.95,"series":"30 CET: SugE"},{"wl":256.6,"cd":2.95,"series":"30 CET: SugE"},{"wl":257.7,"cd":3.05,"series":"30 CET: SugE"},{"wl":258.9,"cd":3.15,"series":"30 CET: SugE"},{"wl":259.8,"cd":2.7,"series":"30 CET: SugE"},{"wl":260.6,"cd":2.1,"series":"30 CET: SugE"},{"wl":261.8,"cd":2.35,"series":"30 CET: SugE"},{"wl":262.9,"cd":2.4,"series":"30 CET: SugE"},{"wl":263.8,"cd":2.25,"series":"30 CET: SugE"},{"wl":264.6,"cd":2.1,"series":"30 CET: SugE"},{"wl":265.8,"cd":2.3,"series":"30 CET: SugE"},{"wl":266.9,"cd":2.0,"series":"30 CET: SugE"},{"wl":268.0,"cd":2.3,"series":"30 CET: SugE"},{"wl":269.2,"cd":2.7,"series":"30 CET: SugE"},{"wl":270.3,"cd":2.45,"series":"30 CET: SugE"},{"wl":271.5,"cd":2.2,"series":"30 CET: SugE"},{"wl":272.3,"cd":2.2,"series":"30 CET: SugE"},{"wl":273.2,"cd":2.1,"series":"30 CET: SugE"},{"wl":274.3,"cd":2.35,"series":"30 CET: SugE"},{"wl":275.5,"cd":2.6,"series":"30 CET: SugE"},{"wl":276.6,"cd":2.45,"series":"30 CET: SugE"},{"wl":277.7,"cd":2.2,"series":"30 CET: SugE"},{"wl":278.8,"cd":2.4,"series":"30 CET: SugE"},{"wl":280.0,"cd":2.7,"series":"30 CET: SugE"},{"wl":281.2,"cd":2.9,"series":"30 CET: SugE"},{"wl":282.3,"cd":3.15,"series":"30 CET: SugE"},{"wl":283.4,"cd":2.9,"series":"30 CET: SugE"},{"wl":284.6,"cd":2.55,"series":"30 CET: SugE"},{"wl":285.7,"cd":2.75,"series":"30 CET: SugE"},{"wl":286.9,"cd":2.95,"series":"30 CET: SugE"},{"wl":288.0,"cd":3.0,"series":"30 CET: SugE"},{"wl":289.1,"cd":3.05,"series":"30 CET: SugE"},{"wl":290.3,"cd":2.95,"series":"30 CET: SugE"},{"wl":291.4,"cd":2.85,"series":"30 CET: SugE"},{"wl":292.6,"cd":3.0,"series":"30 CET: SugE"},{"wl":293.7,"cd":3.15,"series":"30 CET: SugE"},{"wl":294.8,"cd":3.05,"series":"30 CET: SugE"},{"wl":296.0,"cd":2.95,"series":"30 CET: SugE"},{"wl":297.1,"cd":3.0,"series":"30 CET: SugE"},{"wl":298.3,"cd":3.05,"series":"30 CET: SugE"},{"wl":299.4,"cd":3.15,"series":"30 CET: SugE"},{"wl":300.6,"cd":3.25,"series":"30 CET: SugE"},{"wl":301.7,"cd":2.95,"series":"30 CET: SugE"},{"wl":302.8,"cd":2.7,"series":"30 CET: SugE"},{"wl":304.0,"cd":2.75,"series":"30 CET: SugE"},{"wl":305.1,"cd":2.7,"series":"30 CET: SugE"},{"wl":306.5,"cd":2.65,"series":"30 CET: SugE"},{"wl":308.0,"cd":2.7,"series":"30 CET: SugE"},{"wl":309.5,"cd":2.65,"series":"30 CET: SugE"},{"wl":310.9,"cd":2.6,"series":"30 CET: SugE"},{"wl":312.3,"cd":2.65,"series":"30 CET: SugE"},{"wl":313.7,"cd":2.7,"series":"30 CET: SugE"},{"wl":315.4,"cd":2.85,"series":"30 CET: SugE"},{"wl":317.1,"cd":3.05,"series":"30 CET: SugE"},{"wl":318.2,"cd":2.6,"series":"30 CET: SugE"},{"wl":319.4,"cd":2.1,"series":"30 CET: SugE"},{"wl":320.5,"cd":2.3,"series":"30 CET: SugE"},{"wl":321.7,"cd":2.55,"series":"30 CET: SugE"},{"wl":323.2,"cd":2.3,"series":"30 CET: SugE"},{"wl":324.6,"cd":2.0,"series":"30 CET: SugE"},{"wl":326.2,"cd":2.55,"series":"30 CET: SugE"},{"wl":328.5,"cd":1.9,"series":"30 CET: SugE"},{"wl":330.2,"cd":2.15,"series":"30 CET: SugE"},{"wl":331.9,"cd":2.4,"series":"30 CET: SugE"},{"wl":333.6,"cd":2.0,"series":"30 CET: SugE"},{"wl":335.4,"cd":1.7,"series":"30 CET: SugE"},{"wl":337.1,"cd":1.9,"series":"30 CET: SugE"},{"wl":338.8,"cd":2.1,"series":"30 CET: SugE"},{"wl":340.5,"cd":2.0,"series":"30 CET: SugE"},{"wl":342.2,"cd":1.9,"series":"30 CET: SugE"},{"wl":343.9,"cd":1.8,"series":"30 CET: SugE"},{"wl":345.7,"cd":1.7,"series":"30 CET: SugE"},{"wl":347.4,"cd":1.65,"series":"30 CET: SugE"},{"wl":349.1,"cd":1.6,"series":"30 CET: SugE"},{"wl":350.8,"cd":1.5,"series":"30 CET: SugE"},{"wl":352.5,"cd":1.4,"series":"30 CET: SugE"},{"wl":354.2,"cd":1.45,"series":"30 CET: SugE"},{"wl":355.9,"cd":1.5,"series":"30 CET: SugE"},{"wl":357.6,"cd":1.3,"series":"30 CET: SugE"},{"wl":359.4,"cd":1.05,"series":"30 CET: SugE"},{"wl":361.1,"cd":1.2,"series":"30 CET: SugE"},{"wl":362.8,"cd":1.3,"series":"30 CET: SugE"},{"wl":364.5,"cd":1.1,"series":"30 CET: SugE"},{"wl":366.2,"cd":0.95,"series":"30 CET: SugE"},{"wl":367.9,"cd":1.1,"series":"30 CET: SugE"},{"wl":369.6,"cd":1.3,"series":"30 CET: SugE"},{"wl":371.3,"cd":1.0,"series":"30 CET: SugE"},{"wl":373.1,"cd":0.65,"series":"30 CET: SugE"},{"wl":374.8,"cd":0.9,"series":"30 CET: SugE"},{"wl":376.5,"cd":1.15,"series":"30 CET: SugE"},{"wl":378.2,"cd":1.0,"series":"30 CET: SugE"},{"wl":379.9,"cd":0.85,"series":"30 CET: SugE"},{"wl":381.6,"cd":1.05,"series":"30 CET: SugE"},{"wl":383.3,"cd":1.3,"series":"30 CET: SugE"},{"wl":385.0,"cd":1.0,"series":"30 CET: SugE"},{"wl":386.7,"cd":0.75,"series":"30 CET: SugE"},{"wl":388.5,"cd":1.1,"series":"30 CET: SugE"},{"wl":390.2,"cd":1.5,"series":"30 CET: SugE"},{"wl":391.9,"cd":1.3,"series":"30 CET: SugE"},{"wl":393.6,"cd":1.05,"series":"30 CET: SugE"},{"wl":394.8,"cd":1.5,"series":"30 CET: SugE"},{"wl":395.9,"cd":1.9,"series":"30 CET: SugE"},{"wl":397.3,"cd":1.4,"series":"30 CET: SugE"},{"wl":398.8,"cd":0.95,"series":"30 CET: SugE"},{"wl":399.9,"cd":1.1,"series":"30 CET: SugE"},
    {"wl":250.0,"cd":5.15,"series":"3 CET: SugE"},{"wl":251.0,"cd":5.4,"series":"3 CET: SugE"},{"wl":252.1,"cd":5.55,"series":"3 CET: SugE"},{"wl":253.0,"cd":5.4,"series":"3 CET: SugE"},{"wl":253.8,"cd":5.3,"series":"3 CET: SugE"},{"wl":254.6,"cd":5.5,"series":"3 CET: SugE"},{"wl":255.5,"cd":5.6,"series":"3 CET: SugE"},{"wl":256.4,"cd":5.4,"series":"3 CET: SugE"},{"wl":257.2,"cd":5.25,"series":"3 CET: SugE"},{"wl":258.1,"cd":5.45,"series":"3 CET: SugE"},{"wl":258.9,"cd":5.6,"series":"3 CET: SugE"},{"wl":259.8,"cd":5.1,"series":"3 CET: SugE"},{"wl":260.6,"cd":4.6,"series":"3 CET: SugE"},{"wl":262.0,"cd":4.6,"series":"3 CET: SugE"},{"wl":263.5,"cd":4.5,"series":"3 CET: SugE"},{"wl":264.9,"cd":4.55,"series":"3 CET: SugE"},{"wl":266.3,"cd":4.6,"series":"3 CET: SugE"},{"wl":267.2,"cd":4.75,"series":"3 CET: SugE"},{"wl":268.0,"cd":4.7,"series":"3 CET: SugE"},{"wl":268.9,"cd":4.2,"series":"3 CET: SugE"},{"wl":269.8,"cd":3.55,"series":"3 CET: SugE"},{"wl":270.6,"cd":3.9,"series":"3 CET: SugE"},{"wl":271.5,"cd":4.3,"series":"3 CET: SugE"},{"wl":272.6,"cd":4.4,"series":"3 CET: SugE"},{"wl":273.7,"cd":4.5,"series":"3 CET: SugE"},{"wl":274.9,"cd":4.65,"series":"3 CET: SugE"},{"wl":276.0,"cd":4.8,"series":"3 CET: SugE"},{"wl":276.8,"cd":4.6,"series":"3 CET: SugE"},{"wl":277.7,"cd":4.3,"series":"3 CET: SugE"},{"wl":278.8,"cd":4.7,"series":"3 CET: SugE"},{"wl":280.0,"cd":5.35,"series":"3 CET: SugE"},{"wl":280.8,"cd":4.95,"series":"3 CET: SugE"},{"wl":281.7,"cd":4.6,"series":"3 CET: SugE"},{"wl":282.5,"cd":4.75,"series":"3 CET: SugE"},{"wl":283.4,"cd":4.9,"series":"3 CET: SugE"},{"wl":284.3,"cd":4.75,"series":"3 CET: SugE"},{"wl":285.2,"cd":4.6,"series":"3 CET: SugE"},{"wl":286.3,"cd":4.8,"series":"3 CET: SugE"},{"wl":287.4,"cd":5.05,"series":"3 CET: SugE"},{"wl":288.2,"cd":5.25,"series":"3 CET: SugE"},{"wl":289.1,"cd":5.45,"series":"3 CET: SugE"},{"wl":290.0,"cd":5.2,"series":"3 CET: SugE"},{"wl":290.9,"cd":4.9,"series":"3 CET: SugE"},{"wl":292.0,"cd":4.75,"series":"3 CET: SugE"},{"wl":293.2,"cd":4.8,"series":"3 CET: SugE"},{"wl":294.3,"cd":4.7,"series":"3 CET: SugE"},{"wl":295.4,"cd":4.55,"series":"3 CET: SugE"},{"wl":296.5,"cd":4.6,"series":"3 CET: SugE"},{"wl":297.7,"cd":4.6,"series":"3 CET: SugE"},{"wl":298.8,"cd":4.55,"series":"3 CET: SugE"},{"wl":300.0,"cd":4.5,"series":"3 CET: SugE"},{"wl":301.2,"cd":4.45,"series":"3 CET: SugE"},{"wl":302.3,"cd":4.45,"series":"3 CET: SugE"},{"wl":303.5,"cd":4.3,"series":"3 CET: SugE"},{"wl":304.6,"cd":4.2,"series":"3 CET: SugE"},{"wl":305.5,"cd":4.15,"series":"3 CET: SugE"},{"wl":306.3,"cd":4.1,"series":"3 CET: SugE"},{"wl":307.5,"cd":4.25,"series":"3 CET: SugE"},{"wl":308.8,"cd":4.2,"series":"3 CET: SugE"},{"wl":310.3,"cd":4.1,"series":"3 CET: SugE"},{"wl":311.5,"cd":3.9,"series":"3 CET: SugE"},{"wl":312.6,"cd":3.6,"series":"3 CET: SugE"},{"wl":313.7,"cd":2.95,"series":"3 CET: SugE"},{"wl":314.8,"cd":3.3,"series":"3 CET: SugE"},{"wl":316.0,"cd":3.9,"series":"3 CET: SugE"},{"wl":317.1,"cd":3.7,"series":"3 CET: SugE"},{"wl":318.3,"cd":3.35,"series":"3 CET: SugE"},{"wl":319.4,"cd":3.45,"series":"3 CET: SugE"},{"wl":320.5,"cd":3.5,"series":"3 CET: SugE"},{"wl":321.7,"cd":3.55,"series":"3 CET: SugE"},{"wl":322.8,"cd":3.3,"series":"3 CET: SugE"},{"wl":324.0,"cd":3.1,"series":"3 CET: SugE"},{"wl":325.1,"cd":2.95,"series":"3 CET: SugE"},{"wl":326.2,"cd":3.1,"series":"3 CET: SugE"},{"wl":327.4,"cd":2.95,"series":"3 CET: SugE"},{"wl":329.1,"cd":2.85,"series":"3 CET: SugE"},{"wl":330.8,"cd":2.75,"series":"3 CET: SugE"},{"wl":332.5,"cd":2.9,"series":"3 CET: SugE"},{"wl":333.9,"cd":2.85,"series":"3 CET: SugE"},{"wl":335.4,"cd":2.85,"series":"3 CET: SugE"},{"wl":337.7,"cd":2.7,"series":"3 CET: SugE"},{"wl":340.0,"cd":2.55,"series":"3 CET: SugE"},{"wl":341.7,"cd":2.65,"series":"3 CET: SugE"},{"wl":343.4,"cd":2.75,"series":"3 CET: SugE"},{"wl":345.1,"cd":2.5,"series":"3 CET: SugE"},{"wl":346.8,"cd":2.3,"series":"3 CET: SugE"},{"wl":349.1,"cd":2.2,"series":"3 CET: SugE"},{"wl":351.4,"cd":2.1,"series":"3 CET: SugE"},{"wl":353.7,"cd":2.0,"series":"3 CET: SugE"},{"wl":356.0,"cd":1.9,"series":"3 CET: SugE"},{"wl":358.3,"cd":1.85,"series":"3 CET: SugE"},{"wl":360.5,"cd":1.8,"series":"3 CET: SugE"},{"wl":362.3,"cd":1.65,"series":"3 CET: SugE"},{"wl":364.0,"cd":1.5,"series":"3 CET: SugE"},{"wl":365.7,"cd":1.6,"series":"3 CET: SugE"},{"wl":367.4,"cd":1.7,"series":"3 CET: SugE"},{"wl":369.1,"cd":1.5,"series":"3 CET: SugE"},{"wl":370.8,"cd":1.3,"series":"3 CET: SugE"},{"wl":372.5,"cd":1.5,"series":"3 CET: SugE"},{"wl":374.2,"cd":1.7,"series":"3 CET: SugE"},{"wl":376.0,"cd":1.3,"series":"3 CET: SugE"},{"wl":377.7,"cd":0.85,"series":"3 CET: SugE"},{"wl":379.4,"cd":1.2,"series":"3 CET: SugE"},{"wl":381.1,"cd":1.6,"series":"3 CET: SugE"},{"wl":383.4,"cd":1.65,"series":"3 CET: SugE"},{"wl":385.6,"cd":1.7,"series":"3 CET: SugE"},{"wl":387.9,"cd":1.3,"series":"3 CET: SugE"},{"wl":390.2,"cd":0.95,"series":"3 CET: SugE"},{"wl":391.9,"cd":1.4,"series":"3 CET: SugE"},{"wl":393.6,"cd":1.8,"series":"3 CET: SugE"},{"wl":395.3,"cd":1.55,"series":"3 CET: SugE"},{"wl":397.0,"cd":1.3,"series":"3 CET: SugE"},{"wl":398.5,"cd":1.15,"series":"3 CET: SugE"},{"wl":399.9,"cd":1.05,"series":"3 CET: SugE"},
    {"wl":250.0,"cd":3.2,"series":"SugE"},{"wl":250.6,"cd":4.3,"series":"SugE"},{"wl":251.5,"cd":4.8,"series":"SugE"},{"wl":252.4,"cd":5.4,"series":"SugE"},{"wl":253.2,"cd":5.75,"series":"SugE"},{"wl":254.4,"cd":5.9,"series":"SugE"},{"wl":255.5,"cd":6.0,"series":"SugE"},{"wl":256.6,"cd":5.8,"series":"SugE"},{"wl":257.8,"cd":5.75,"series":"SugE"},{"wl":258.8,"cd":6.0,"series":"SugE"},{"wl":260.0,"cd":6.8,"series":"SugE"},{"wl":261.0,"cd":6.2,"series":"SugE"},{"wl":261.7,"cd":5.9,"series":"SugE"},{"wl":263.0,"cd":6.1,"series":"SugE"},{"wl":264.6,"cd":6.3,"series":"SugE"},{"wl":266.0,"cd":6.1,"series":"SugE"},{"wl":267.5,"cd":6.15,"series":"SugE"},{"wl":268.6,"cd":5.95,"series":"SugE"},{"wl":269.8,"cd":5.9,"series":"SugE"},{"wl":271.2,"cd":6.3,"series":"SugE"},{"wl":272.6,"cd":6.5,"series":"SugE"},{"wl":274.0,"cd":6.4,"series":"SugE"},{"wl":275.5,"cd":7.1,"series":"SugE"},{"wl":276.4,"cd":6.8,"series":"SugE"},{"wl":277.2,"cd":6.6,"series":"SugE"},{"wl":278.6,"cd":6.9,"series":"SugE"},{"wl":280.0,"cd":7.3,"series":"SugE"},{"wl":281.5,"cd":7.25,"series":"SugE"},{"wl":282.9,"cd":7.4,"series":"SugE"},{"wl":284.0,"cd":7.15,"series":"SugE"},{"wl":285.2,"cd":7.0,"series":"SugE"},{"wl":286.3,"cd":7.25,"series":"SugE"},{"wl":287.4,"cd":7.3,"series":"SugE"},{"wl":289.1,"cd":7.75,"series":"SugE"},{"wl":290.9,"cd":7.3,"series":"SugE"},{"wl":292.6,"cd":6.4,"series":"SugE"},{"wl":294.3,"cd":5.5,"series":"SugE"},{"wl":295.5,"cd":5.55,"series":"SugE"},{"wl":296.6,"cd":5.45,"series":"SugE"},{"wl":298.3,"cd":5.75,"series":"SugE"},{"wl":299.5,"cd":5.4,"series":"SugE"},{"wl":300.6,"cd":5.15,"series":"SugE"},{"wl":302.8,"cd":5.0,"series":"SugE"},{"wl":304.6,"cd":4.5,"series":"SugE"},{"wl":306.3,"cd":4.05,"series":"SugE"},{"wl":308.0,"cd":4.2,"series":"SugE"},{"wl":310.3,"cd":4.1,"series":"SugE"},{"wl":312.0,"cd":3.95,"series":"SugE"},{"wl":313.7,"cd":3.8,"series":"SugE"},{"wl":314.8,"cd":3.25,"series":"SugE"},{"wl":316.0,"cd":3.7,"series":"SugE"},{"wl":317.1,"cd":3.8,"series":"SugE"},{"wl":319.4,"cd":3.65,"series":"SugE"},{"wl":321.7,"cd":3.65,"series":"SugE"},{"wl":323.0,"cd":3.4,"series":"SugE"},{"wl":324.0,"cd":3.25,"series":"SugE"},{"wl":325.6,"cd":3.15,"series":"SugE"},{"wl":327.4,"cd":3.15,"series":"SugE"},{"wl":329.1,"cd":3.0,"series":"SugE"},{"wl":330.8,"cd":2.85,"series":"SugE"},{"wl":332.5,"cd":2.8,"series":"SugE"},{"wl":334.2,"cd":2.75,"series":"SugE"},{"wl":336.0,"cd":2.85,"series":"SugE"},{"wl":337.7,"cd":2.95,"series":"SugE"},{"wl":339.4,"cd":2.8,"series":"SugE"},{"wl":341.1,"cd":2.7,"series":"SugE"},{"wl":342.8,"cd":2.55,"series":"SugE"},{"wl":344.5,"cd":2.4,"series":"SugE"},{"wl":346.3,"cd":2.35,"series":"SugE"},{"wl":348.0,"cd":2.3,"series":"SugE"},{"wl":349.4,"cd":2.15,"series":"SugE"},{"wl":350.8,"cd":2.0,"series":"SugE"},{"wl":352.2,"cd":2.0,"series":"SugE"},{"wl":353.7,"cd":1.95,"series":"SugE"},{"wl":355.4,"cd":1.95,"series":"SugE"},{"wl":357.1,"cd":1.9,"series":"SugE"},{"wl":358.8,"cd":1.8,"series":"SugE"},{"wl":360.5,"cd":1.75,"series":"SugE"},{"wl":362.2,"cd":1.7,"series":"SugE"},{"wl":364.0,"cd":1.6,"series":"SugE"},{"wl":365.7,"cd":1.55,"series":"SugE"},{"wl":367.4,"cd":1.5,"series":"SugE"},{"wl":369.6,"cd":1.6,"series":"SugE"},{"wl":371.9,"cd":1.7,"series":"SugE"},{"wl":373.6,"cd":1.6,"series":"SugE"},{"wl":375.3,"cd":1.5,"series":"SugE"},{"wl":377.6,"cd":1.5,"series":"SugE"},{"wl":379.9,"cd":1.45,"series":"SugE"},{"wl":381.6,"cd":1.4,"series":"SugE"},{"wl":383.3,"cd":1.3,"series":"SugE"},{"wl":384.5,"cd":1.5,"series":"SugE"},{"wl":386.2,"cd":1.45,"series":"SugE"},{"wl":387.9,"cd":1.4,"series":"SugE"},{"wl":390.2,"cd":1.5,"series":"SugE"},{"wl":392.5,"cd":1.6,"series":"SugE"},{"wl":394.2,"cd":1.4,"series":"SugE"},{"wl":395.9,"cd":1.2,"series":"SugE"},{"wl":397.9,"cd":1.15,"series":"SugE"},{"wl":399.9,"cd":1.05,"series":"SugE"}
  ]
},
"spacing": 24,
"resolve": {"scale": {"color": "independent", "strokeDash": "independent"}},
"hconcat": [
  {
    "spacing": 83,
    "bounds": "flush",
    "resolve": {"scale": {"color": "independent", "strokeDash": "independent"}},
    "vconcat": [
      {
        "width": 393, "height": 302,
        "layer": [
          {"data": {"values": [{}]}, "mark": {"type": "rule", "color": "#b0b0b0", "strokeWidth": 1}, "encoding": {"y": {"datum": 0, "type": "quantitative"}}},
          {"data": {"name": "cdA"}, "mark": {"type": "line", "color": "black", "strokeWidth": 3, "clip": false},
           "encoding": {
             "x": {"field": "wl", "type": "quantitative", "title": "Wavelength (nm)", "scale": {"domain": [190, 245], "nice": false, "zero": false},
                   "axis": {"values": [190, 200, 210, 220, 230, 240], "format": "d", "tickSize": 3, "labelPadding": 0, "titlePadding": 1, "labelFlush": false, "labelOverlap": false, "titleX": 202}},
             "y": {"field": "mre", "type": "quantitative", "title": ["MRE θ (degrees · cm²· dmol⁻¹", "residue⁻¹x 10³)"], "scale": {"domain": [-30, 60], "nice": false, "zero": false},
                   "axis": {"values": [-30, -20, -10, 0, 10, 20, 30, 40, 50, 60], "format": "d", "tickSize": 3, "labelPadding": 6, "labelFlush": false, "labelOverlap": false, "titleFontWeight": "normal", "titleFontSize": 23, "titleLineHeight": 35, "titlePadding": 4}},
             "strokeDash": {"field": "series", "type": "nominal", "sort": null, "scale": {"domain": ["SugE", "3 CTP: SugE", "30 CTP: SugE"], "range": [[1, 0], [7, 4], [2, 2.5]]}, "legend": null}
           }},
          {"data": {"values": [{}]}, "mark": {"type": "text", "font": "Liberation Sans", "fontWeight": "bold", "fontSize": 25, "align": "center", "baseline": "middle", "color": "black"},
           "encoding": {"x": {"datum": 238.2, "type": "quantitative"}, "y": {"datum": 43.6, "type": "quantitative"}, "text": {"value": "A"}}}
        ]
      },
      {
        "width": 393, "height": 302,
        "layer": [
          {"data": {"values": [{}]}, "mark": {"type": "rule", "color": "#b0b0b0", "strokeWidth": 1}, "encoding": {"y": {"datum": 0, "type": "quantitative"}}},
          {"data": {"name": "cdC"}, "mark": {"type": "line", "color": "black", "strokeWidth": 3, "clip": false},
           "encoding": {
             "x": {"field": "wl", "type": "quantitative", "title": "Wavelength (nm)", "scale": {"domain": [190, 245], "nice": false, "zero": false},
                   "axis": {"values": [190, 200, 210, 220, 230, 240], "format": "d", "tickSize": 3, "labelPadding": 0, "titlePadding": 1, "labelFlush": false, "labelOverlap": false, "titleX": 202}},
             "y": {"field": "mre", "type": "quantitative", "title": ["MRE θ (degrees · cm²· dmol⁻¹", "residue⁻¹x 10³)"], "scale": {"domain": [-30, 60], "nice": false, "zero": false},
                   "axis": {"values": [-30, -20, -10, 0, 10, 20, 30, 40, 50, 60], "format": "d", "tickSize": 3, "labelPadding": 6, "labelFlush": false, "labelOverlap": false, "titleFontWeight": "normal", "titleFontSize": 23, "titleLineHeight": 35, "titlePadding": 4}},
             "strokeDash": {"field": "series", "type": "nominal", "sort": null, "scale": {"domain": ["SugE", "3 CET: SugE", "30 CET: SugE"], "range": [[1, 0], [7, 4], [2, 2.5]]}, "legend": null}
           }},
          {"data": {"values": [{}]}, "mark": {"type": "text", "font": "Liberation Sans", "fontWeight": "bold", "fontSize": 25, "align": "center", "baseline": "middle", "color": "black"},
           "encoding": {"x": {"datum": 238.2, "type": "quantitative"}, "y": {"datum": 43.6, "type": "quantitative"}, "text": {"value": "C"}}}
        ]
      }
    ]
  },
  {
    "spacing": 111,
    "bounds": "flush",
    "resolve": {"scale": {"color": "independent", "strokeDash": "independent"}},
    "vconcat": [
      {
        "width": 438, "height": 288,
        "layer": [
          {"data": {"name": "nuvB"}, "mark": {"type": "line", "strokeWidth": 3.5, "strokeJoin": "round", "clip": false},
           "encoding": {
             "x": {"field": "wl", "type": "quantitative", "title": "Wavelength (nm)", "scale": {"domain": [250, 400], "nice": false, "zero": false},
                   "axis": {"values": [250, 258.333, 266.667, 275, 283.333, 291.667, 300, 308.333, 316.667, 325, 333.333, 341.667, 350, 358.333, 366.667, 375, 383.333, 391.667, 400],
                            "labelExpr": "abs(datum.value / 25 - round(datum.value / 25)) < 0.01 ? format(datum.value, 'd') : ''",
                            "labelOverlap": false, "labelFlush": false, "tickSize": 10, "labelPadding": 3, "titlePadding": 5, "titleX": 256}},
             "y": {"field": "cd", "type": "quantitative", "scale": {"domain": [0, 9], "nice": false, "zero": false},
                   "axis": {"values": [0, 1, 2, 3, 4, 5, 6, 7, 8, 9], "labels": false, "title": null, "tickSize": 4}},
             "color": {"field": "series", "type": "nominal", "sort": null,
                       "scale": {"domain": ["SugE", "3 CTP: SugE", "30 CTP: SugE"], "range": ["#000000", "#969696", "#dedede"]},
                       "legend": {"title": "DDM", "orient": "none", "legendX": 213, "legendY": 40}}
           }},
          {"data": {"values": [{}]}, "mark": {"type": "text", "font": "Liberation Sans", "fontWeight": "bold", "fontSize": 25, "align": "center", "baseline": "middle", "color": "black"},
           "encoding": {"x": {"datum": 384.2, "type": "quantitative"}, "y": {"datum": 7.47, "type": "quantitative"}, "text": {"value": "B"}}}
        ]
      },
      {
        "width": 438, "height": 288,
        "layer": [
          {"data": {"name": "nuvD"}, "mark": {"type": "line", "strokeWidth": 3.5, "strokeJoin": "round", "clip": false},
           "encoding": {
             "x": {"field": "wl", "type": "quantitative", "title": "Wavelength (nm)", "scale": {"domain": [250, 400], "nice": false, "zero": false},
                   "axis": {"values": [250, 258.333, 266.667, 275, 283.333, 291.667, 300, 308.333, 316.667, 325, 333.333, 341.667, 350, 358.333, 366.667, 375, 383.333, 391.667, 400],
                            "labelExpr": "abs(datum.value / 25 - round(datum.value / 25)) < 0.01 ? format(datum.value, 'd') : ''",
                            "labelOverlap": false, "labelFlush": false, "tickSize": 10, "labelPadding": 3, "titlePadding": 1}},
             "y": {"field": "cd", "type": "quantitative", "scale": {"domain": [0, 9], "nice": false, "zero": false},
                   "axis": {"values": [0, 1, 2, 3, 4, 5, 6, 7, 8, 9], "labels": false, "title": null, "tickSize": 4}},
             "color": {"field": "series", "type": "nominal", "sort": null,
                       "scale": {"domain": ["SugE", "3 CET: SugE", "30 CET: SugE"], "range": ["#000000", "#969696", "#dedede"]},
                       "legend": {"title": "DDM", "orient": "none", "legendX": 213, "legendY": 31}}
           }},
          {"data": {"values": [{}]}, "mark": {"type": "text", "font": "Liberation Sans", "fontWeight": "bold", "fontSize": 25, "align": "center", "baseline": "middle", "color": "black"},
           "encoding": {"x": {"datum": 384.2, "type": "quantitative"}, "y": {"datum": 7.65, "type": "quantitative"}, "text": {"value": "D"}}}
        ]
      }
    ]
  }
]
}
